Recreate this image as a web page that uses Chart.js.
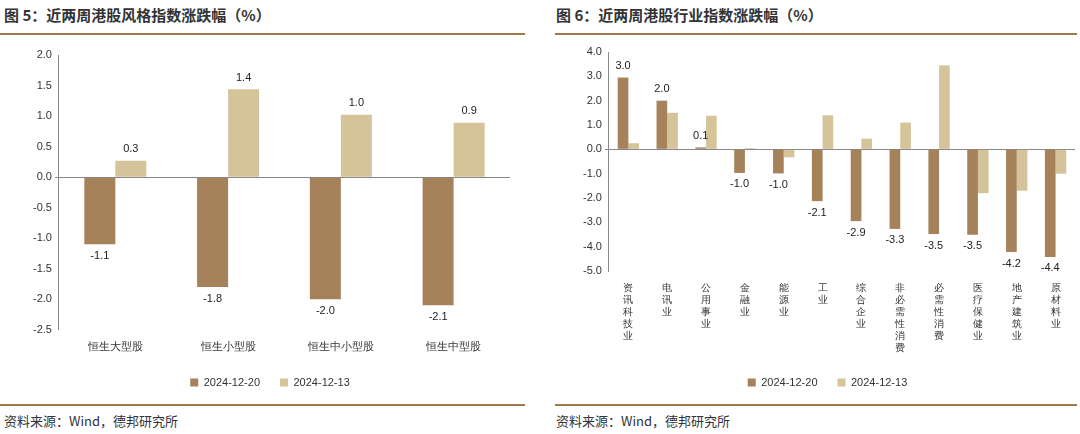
<!DOCTYPE html>
<html><head><meta charset="utf-8">
<script src="https://cdn.jsdelivr.net/npm/chart.js@4/dist/chart.umd.min.js"></script>
<style>
body{margin:0;width:1080px;height:434px;background:#fff;font-family:"Noto Sans CJK SC",sans-serif;position:relative;overflow:hidden}
.t{position:absolute;top:4px;font-size:15px;font-weight:bold;color:#333}
.ln{position:absolute;height:2px;background:#A0784B}
.src{position:absolute;top:411px;font-size:13px;color:#333}
.box{position:absolute}
</style></head><body>
<div class="t" style="left:4px">图 5：近两周港股风格指数涨跌幅（%）</div>
<div class="t" style="left:556px">图 6：近两周港股行业指数涨跌幅（%）</div>
<div class="ln" style="left:0;width:525px;top:33px"></div>
<div class="ln" style="left:555px;width:522px;top:33px"></div>
<div class="ln" style="left:0;width:525px;top:404px"></div>
<div class="ln" style="left:555px;width:522px;top:404px"></div>
<div class="src" style="left:4px">资料来源：Wind，德邦研究所</div>
<div class="src" style="left:556px">资料来源：Wind，德邦研究所</div>
<div class="box" style="left:0;top:38px;width:525px;height:360px"><canvas id="c1"></canvas></div>
<div class="box" style="left:555px;top:38px;width:522px;height:360px"><canvas id="c2"></canvas></div>
<script>
// 图5 数据
const styleCats = ["恒生大型股","恒生小型股","恒生中小型股","恒生中型股"];
const style1220 = [-1.1,-1.8,-2.0,-2.1];
const style1213 = [0.27,1.44,1.02,0.89];
// 图6 数据
const indCats = ["资讯科技业","电讯业","公用事业","金融业","能源业","工业","综合企业","非必需性消费","必需性消费","医疗保健业","地产建筑业","原材料业"];
const ind1220 = [2.95,2.0,0.08,-0.97,-0.99,-2.13,-2.95,-3.27,-3.48,-3.51,-4.22,-4.42];
const ind1213 = [0.25,1.5,1.38,0.05,-0.33,1.4,0.44,1.1,3.45,-1.8,-1.7,-1.0];
const DARK="#A5825A", LIGHT="#D5C49A";

const labelPlugin = {
  id:"vals",
  afterDatasetsDraw(chart){
    const ctx=chart.ctx;
    ctx.save();ctx.font="11px 'Liberation Sans',Arial";ctx.fillStyle="#222";ctx.textAlign="center";
    chart.data.datasets.forEach((ds,i)=>{
      if(!ds.showVals)return;
      chart.getDatasetMeta(i).data.forEach((b,j)=>{
        const v=ds.data[j];const t=(Math.round(v*10)/10).toFixed(1);
        if(v>=0){ctx.textBaseline="bottom";ctx.fillText(t,b.x,b.y-6);}
        else{ctx.textBaseline="top";ctx.fillText(t,b.x,b.y+6);}
      });
    });
    ctx.restore();
  }
};

function makeChart(id,cats,d1,d2,lbl2,min,max,step,pad,fs){
  new Chart(document.getElementById(id),{
    type:"bar",
    data:{labels:cats,datasets:[
      {label:"2024-12-20",data:d1,backgroundColor:DARK,showVals:true,categoryPercentage:0.55,barPercentage:1},
      {label:"2024-12-13",data:d2,backgroundColor:LIGHT,showVals:lbl2,categoryPercentage:0.55,barPercentage:1}
    ]},
    options:{responsive:true,maintainAspectRatio:false,animation:false,
      layout:{padding:pad},
      plugins:{legend:{position:"bottom",labels:{boxWidth:8,boxHeight:8,font:{size:11,family:"'Liberation Sans',Arial"},color:"#333",padding:20}},tooltip:{enabled:false}},
      scales:{
        x:{grid:{display:false},border:{display:false},ticks:{color:"#333",maxRotation:0,autoSkip:false,font:{size:fs}}},
        y:{min:min,max:max,ticks:{stepSize:step,color:"#333",font:{size:11,family:"'Liberation Sans',Arial"},callback:v=>v.toFixed(1)},
           border:{color:"#888"},
           grid:{drawTicks:true,tickLength:4,color:c=>c.tick&&c.tick.value===0?"#888":"rgba(0,0,0,0)"}}
      }
    },
    plugins:[labelPlugin]
  });
}
makeChart("c1",styleCats,style1220,style1213,true,-2.5,2.0,0.5,{left:30,right:15,top:17,bottom:0},11);
makeChart("c2",indCats.map(s=>s.split("")),ind1220,ind1213,false,-5,4,1,{left:25,right:2,top:14,bottom:0},10);
</script>
</body></html>
